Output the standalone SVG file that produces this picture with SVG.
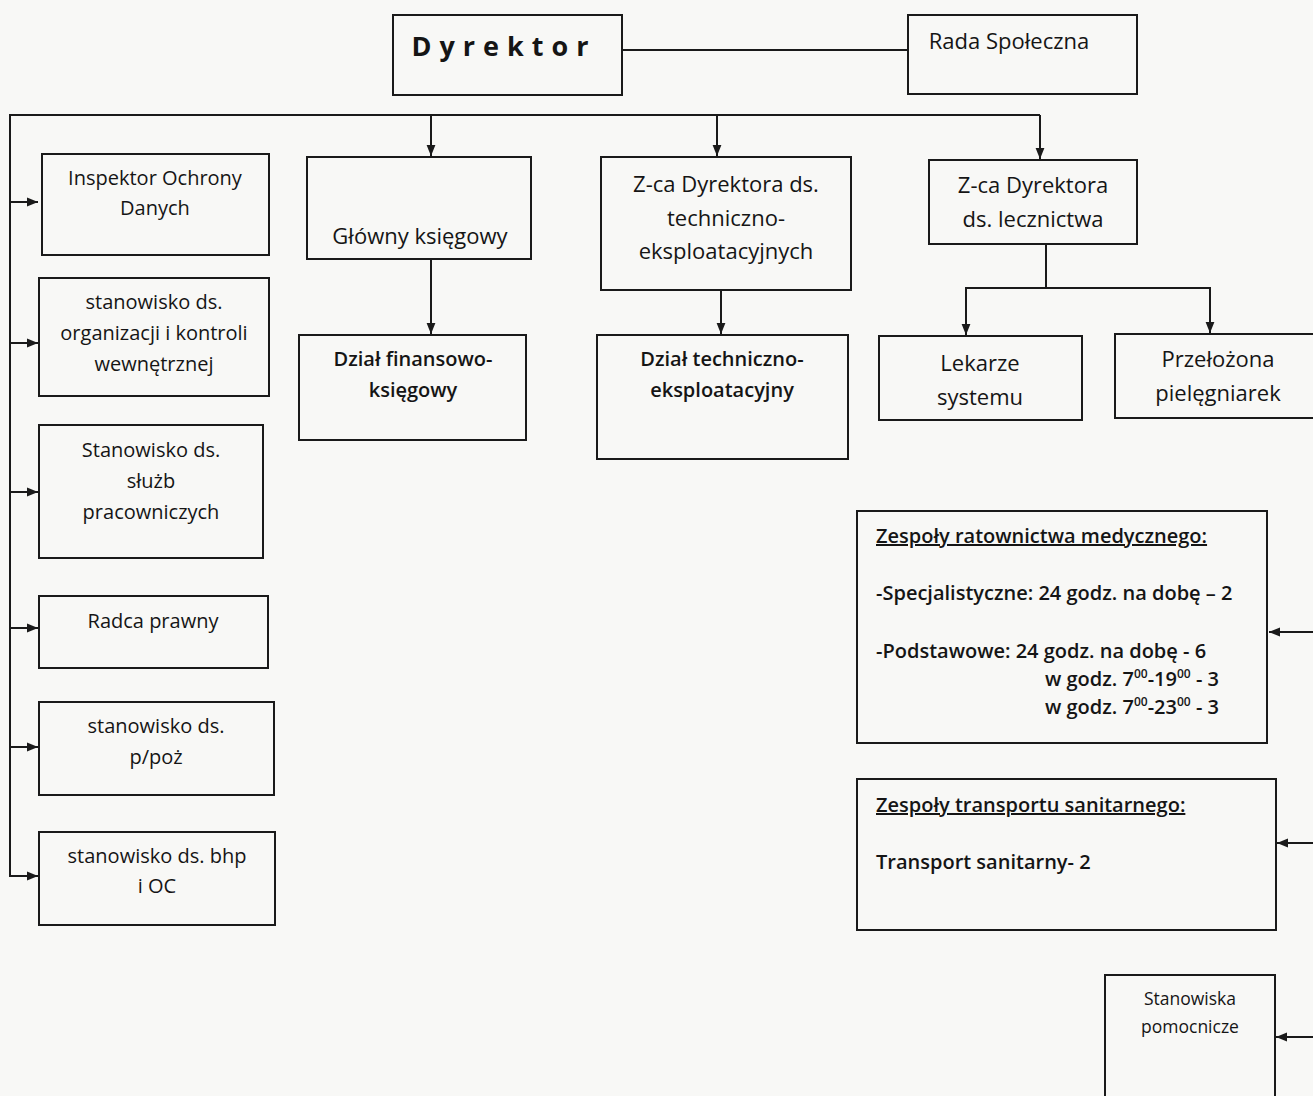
<svg xmlns="http://www.w3.org/2000/svg" width="1313" height="1096" viewBox="0 0 1313 1096">
<defs>
<marker id="ah" viewBox="0 0 10 10" refX="10" refY="5" markerWidth="11" markerHeight="11" markerUnits="userSpaceOnUse" orient="auto">
<path d="M0,1 L10,5 L0,9 Z" fill="#1a1a1a"/>
</marker>
<style>
.b{fill:none;stroke:#1a1a1a;stroke-width:2}
.c{fill:none;stroke:#1a1a1a;stroke-width:2}
.t{font-family:"Open Sans","Noto Sans",sans-serif;font-size:22px;font-weight:500;fill:#151515;text-anchor:middle}
.s{font-size:20px}
.m{font-weight:600}
.l{text-anchor:start;font-weight:600}
.u{text-decoration:underline}
.sup{font-size:12px}
</style>
</defs>
<rect width="1313" height="1096" fill="#f8f8f6"/>
<g id="connectors">
<line class="c" x1="622" y1="50" x2="908" y2="50"/>
<polyline class="c" points="10,877 10,115 1040,115"/>
<line class="c" x1="431" y1="115" x2="431" y2="156" marker-end="url(#ah)"/>
<line class="c" x1="717" y1="115" x2="717" y2="156" marker-end="url(#ah)"/>
<line class="c" x1="1040" y1="115" x2="1040" y2="159" marker-end="url(#ah)"/>
<line class="c" x1="431" y1="259" x2="431" y2="334" marker-end="url(#ah)"/>
<line class="c" x1="721" y1="290" x2="721" y2="334" marker-end="url(#ah)"/>
<line class="c" x1="1046" y1="244" x2="1046" y2="288"/>
<line class="c" x1="966" y1="288" x2="1210" y2="288"/>
<line class="c" x1="966" y1="287" x2="966" y2="335" marker-end="url(#ah)"/>
<line class="c" x1="1210" y1="287" x2="1210" y2="333" marker-end="url(#ah)"/>
<line class="c" x1="10" y1="202" x2="38" y2="202" marker-end="url(#ah)"/>
<line class="c" x1="10" y1="343" x2="38" y2="343" marker-end="url(#ah)"/>
<line class="c" x1="10" y1="492" x2="38" y2="492" marker-end="url(#ah)"/>
<line class="c" x1="10" y1="628" x2="38" y2="628" marker-end="url(#ah)"/>
<line class="c" x1="10" y1="747" x2="38" y2="747" marker-end="url(#ah)"/>
<line class="c" x1="9" y1="876" x2="38" y2="876" marker-end="url(#ah)"/>
<line class="c" x1="1313" y1="632" x2="1269" y2="632" marker-end="url(#ah)"/>
<line class="c" x1="1313" y1="843" x2="1277" y2="843" marker-end="url(#ah)"/>
<line class="c" x1="1313" y1="1037" x2="1276" y2="1037" marker-end="url(#ah)"/>
</g>
<g id="dyrektor"><rect class="b" x="393" y="15" width="229" height="80"/><text class="t" x="504" y="56" style="font-size:27px;font-weight:700;letter-spacing:8px">Dyrektor</text></g>
<g id="rada"><rect class="b" x="908" y="15" width="229" height="79"/><text class="t" x="1009" y="49">Rada Społeczna</text></g>
<g id="glowny"><rect class="b" x="307" y="157" width="224" height="102"/><text class="t" x="420" y="244">Główny księgowy</text></g>
<g id="zca-tech"><rect class="b" x="601" y="157" width="250" height="133"/><text class="t" x="726" y="192">Z-ca Dyrektora ds.</text><text class="t" x="726" y="226">techniczno-</text><text class="t" x="726" y="259">eksploatacyjnych</text></g>
<g id="zca-lecz"><rect class="b" x="929" y="160" width="208" height="84"/><text class="t" x="1033" y="193">Z-ca Dyrektora</text><text class="t" x="1033" y="227">ds. lecznictwa</text></g>
<g id="lekarze"><rect class="b" x="879" y="336" width="203" height="84"/><text class="t" x="980" y="371">Lekarze</text><text class="t" x="980" y="405">systemu</text></g>
<g id="przelozona"><rect class="b" x="1115" y="334" width="210" height="84"/><text class="t" x="1218" y="367">Przełożona</text><text class="t" x="1218" y="401">pielęgniarek</text></g>
<g id="dzial-fin"><rect class="b" x="299" y="335" width="227" height="105"/><text class="t s m" x="413" y="366">Dział finansowo-</text><text class="t s m" x="413" y="397">księgowy</text></g>
<g id="dzial-tech"><rect class="b" x="597" y="335" width="251" height="124"/><text class="t s m" x="722" y="366">Dział techniczno-</text><text class="t s m" x="722" y="397">eksploatacyjny</text></g>
<g id="inspektor"><rect class="b" x="42" y="154" width="227" height="101"/><text class="t s" x="155" y="185">Inspektor Ochrony</text><text class="t s" x="155" y="215">Danych</text></g>
<g id="organizacja"><rect class="b" x="39" y="278" width="230" height="118"/><text class="t s" x="154" y="309">stanowisko ds.</text><text class="t s" x="154" y="340">organizacji i kontroli</text><text class="t s" x="154" y="371">wewnętrznej</text></g>
<g id="sluzby"><rect class="b" x="39" y="425" width="224" height="133"/><text class="t s" x="151" y="457">Stanowisko ds.</text><text class="t s" x="151" y="488">służb</text><text class="t s" x="151" y="519">pracowniczych</text></g>
<g id="radca"><rect class="b" x="39" y="596" width="229" height="72"/><text class="t s" x="153" y="628">Radca prawny</text></g>
<g id="ppoz"><rect class="b" x="39" y="702" width="235" height="93"/><text class="t s" x="156" y="733">stanowisko ds.</text><text class="t s" x="156" y="764">p/poż</text></g>
<g id="bhp"><rect class="b" x="39" y="832" width="236" height="93"/><text class="t s" x="157" y="863">stanowisko ds. bhp</text><text class="t s" x="157" y="893">i  OC</text></g>
<g id="ratownictwo"><rect class="b" x="857" y="511" width="410" height="232"/>
<text class="t s l u" x="876" y="543">Zespoły ratownictwa medycznego:</text>
<text class="t s l" x="876" y="600">-Specjalistyczne: 24 godz. na dobę – 2</text>
<text class="t s l" x="876" y="658">-Podstawowe: 24 godz. na dobę - 6</text>
<text class="t s l" x="1045" y="686">w godz. 7<tspan class="sup" dy="-8">00</tspan><tspan dy="8">-19</tspan><tspan class="sup" dy="-8">00</tspan><tspan dy="8"> - 3</tspan></text>
<text class="t s l" x="1045" y="714">w godz. 7<tspan class="sup" dy="-8">00</tspan><tspan dy="8">-23</tspan><tspan class="sup" dy="-8">00</tspan><tspan dy="8"> - 3</tspan></text>
</g>
<g id="transport"><rect class="b" x="857" y="779" width="419" height="151"/>
<text class="t s l u" x="876" y="812">Zespoły transportu sanitarnego:</text>
<text class="t s l" x="876" y="869">Transport sanitarny- 2</text>
</g>
<g id="pomocnicze"><rect class="b" x="1105" y="975" width="170" height="130"/><text class="t" x="1190" y="1005" style="font-size:17.5px">Stanowiska</text><text class="t" x="1190" y="1033" style="font-size:17.5px">pomocnicze</text></g>
</svg>
